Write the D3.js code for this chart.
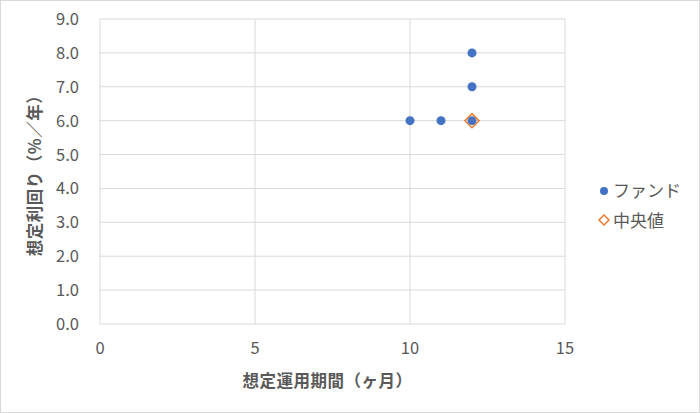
<!DOCTYPE html>
<html><head><meta charset="utf-8">
<script src="https://cdn.jsdelivr.net/npm/d3@7"></script>
<style>body{margin:0;background:#fff;}text{font-family:"Noto Sans CJK JP","Noto Sans",sans-serif;}</style>
</head><body>
<svg id="c" width="700" height="413"></svg>
<script>
const fundMonths = [10, 11, 12, 12, 12];
const fundYields = [6.0, 6.0, 6.0, 7.0, 8.0];
const medianMonths = [12];
const medianYields = [6.0];
const xTicks = [0, 5, 10, 15];
const yTicks = [0, 1, 2, 3, 4, 5, 6, 7, 8, 9];
const seriesNames = ["ファンド", "中央値"];
const xTitle = "想定運用期間（ヶ月）";
const yTitle = "想定利回り（%／年）";

const svg = d3.select("#c");
svg.append("rect").attr("x",0.5).attr("y",0.5).attr("width",699).attr("height",412)
  .attr("fill","#fff").attr("stroke","#d9d9d9");
const L=100,R=565,T=19,B=324;
const x = d3.scaleLinear().domain([0,15]).range([L,R]);
const y = d3.scaleLinear().domain([0,9]).range([B,T]);

const g = svg.append("g");
g.selectAll(".vg").data(xTicks).join("line")
  .attr("x1",d=>x(d)).attr("x2",d=>x(d)).attr("y1",T).attr("y2",B)
  .attr("stroke","#d9d9d9").attr("stroke-width",1);
g.selectAll(".hg").data(yTicks).join("line")
  .attr("x1",L).attr("x2",R).attr("y1",d=>y(d)).attr("y2",d=>y(d))
  .attr("stroke","#d9d9d9").attr("stroke-width",1);

g.selectAll(".xt").data(xTicks).join("text")
  .attr("x",d=>x(d)).attr("y",B+30).attr("text-anchor","middle")
  .attr("font-size",16.5).attr("fill","#595959").text(d=>d);
g.selectAll(".yt").data(yTicks).join("text")
  .attr("x",L-21).attr("y",d=>y(d)+6).attr("text-anchor","end")
  .attr("font-size",16.5).attr("fill","#595959").text(d=>d.toFixed(1));

svg.append("text").attr("x",(L+R)/2 - 5).attr("y",387).attr("text-anchor","middle")
  .attr("font-size",16.5).attr("letter-spacing",0.5).attr("font-weight","bold").attr("fill","#595959").text(xTitle);
svg.append("text").attr("transform",`translate(41,${(T+B)/2}) rotate(-90)`)
  .attr("text-anchor","middle").attr("font-size",16.5).attr("letter-spacing",0.5).attr("font-weight","bold")
  .attr("fill","#595959").text(yTitle);

const fund = fundMonths.map((m,i)=>({m, v:fundYields[i]}));
g.selectAll(".pt").data(fund).join("circle")
  .attr("cx",d=>x(d.m)).attr("cy",d=>y(d.v)).attr("r",4.5).attr("fill","#4472C4");
const med = medianMonths.map((m,i)=>({m, v:medianYields[i]}));
g.selectAll(".md").data(med).join("path")
  .attr("transform",d=>`translate(${x(d.m)},${y(d.v)}) rotate(45)`)
  .attr("d", d3.symbol().type(d3.symbolSquare).size(100))
  .attr("fill","none").attr("stroke","#ED7D31").attr("stroke-width",1.5);

const leg = svg.append("g");
leg.append("circle").attr("cx",604).attr("cy",191).attr("r",4).attr("fill","#4472C4");
leg.append("path").attr("transform","translate(604,220) rotate(45)")
  .attr("d", d3.symbol().type(d3.symbolSquare).size(50))
  .attr("fill","none").attr("stroke","#ED7D31").attr("stroke-width",1.5);
leg.selectAll(".lt").data(seriesNames).join("text")
  .attr("x",613).attr("y",(d,i)=>197+i*30).attr("font-size",17)
  .attr("fill","#595959").text(d=>d);
</script>
</body></html>
